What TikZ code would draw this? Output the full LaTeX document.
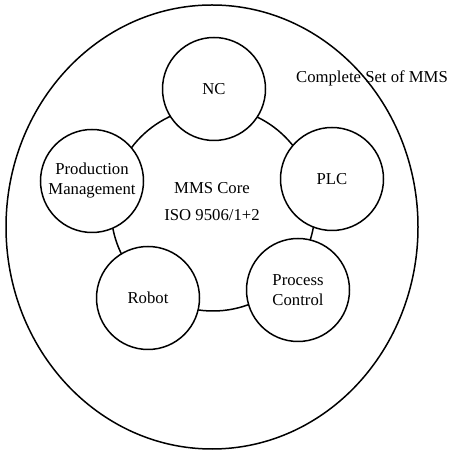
\documentclass[tikz,border=0pt]{standalone}
\usepackage{fontspec}
\setmainfont{Liberation Serif}
\usepackage{tikz}
\usetikzlibrary{shapes.geometric}

\begin{document}
\begin{tikzpicture}[x=1pt,y=1pt,line width=1.5pt]
    \tikzstyle{part}=[draw=black, circle, minimum size=103pt, inner sep=0pt, fill=white, text=black, align=center]
    \tikzstyle{txt}=[text=black, align=center, inner sep=0pt]
    \useasboundingbox (0,0) rectangle (449,452);
    \fontsize{16.7}{20}\selectfont

    % outer set and the core ring
    \node[draw, ellipse, minimum width=412pt, minimum height=444pt, inner sep=0pt] (set) at (212,225) {};
    \node[draw, circle, minimum size=204pt, inner sep=0pt] (core) at (213,243) {};

    \node[part] (nc)    at (214,363) {NC};
    \node[part] (plc)   at (332,273) {PLC};
    \node[part] (pctl)  at (298,162) {Process\\Control};
    \node[part] (robot) at (148,154) {Robot};
    \node[part] (prod)  at (92,271)  {\raisebox{8pt}{\begin{tabular}{@{}c@{}}Production\\Management\end{tabular}}};

    \node[txt] (coretext) at (212,250) {MMS Core\\[7pt]ISO 9506/1+2};
    \node[txt] (setlabel) at (372,374) {Complete Set of MMS};
\end{tikzpicture}
\end{document}
